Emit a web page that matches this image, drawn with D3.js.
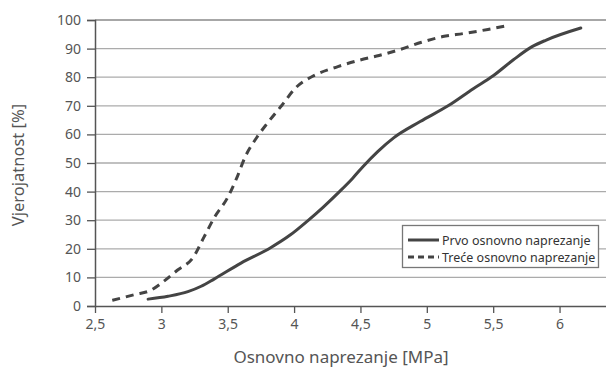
<!DOCTYPE html>
<html>
<head>
<meta charset="utf-8">
<script src="https://cdn.jsdelivr.net/npm/d3@7"></script>
<style>
  body { margin: 0; background: #fff; }
  svg { font-family: "Noto Sans", "Open Sans", sans-serif; }
</style>
</head>
<body>
<svg id="chart" width="606" height="370"></svg>
<script>
// Prvo osnovno naprezanje (solid)
const prvoX = [2.9, 3.05, 3.2, 3.3, 3.4, 3.6, 3.82, 3.97, 4.1, 4.22, 4.34, 4.44, 4.52, 4.63, 4.75, 4.95, 5.16, 5.35, 5.5, 5.65, 5.79, 5.9, 6.16]
const prvoY = [2.4, 3.4, 5, 6.9, 9.5, 15, 20.3, 24.8, 29.7, 34.6, 39.9, 44.6, 48.8, 54, 58.8, 64.5, 70, 76, 80.5, 86, 90.6, 93, 97.2]
// Treće osnovno naprezanje (dashed)
const treceX = [2.63, 2.8, 2.92, 3.0, 3.12, 3.24, 3.32, 3.4, 3.5, 3.57, 3.63, 3.72, 3.8, 3.91, 4.01, 4.16, 4.33, 4.48, 4.64, 4.8, 4.96, 5.12, 5.28, 5.46, 5.6]
const treceY = [2, 4, 5.5, 8, 12.5, 17, 24, 31, 38, 45, 52, 59, 64, 70.3, 76.2, 80.8, 83.7, 85.8, 87.6, 89.7, 92.2, 94.2, 95.3, 96.7, 98]

const xTicks = [2.5, 3, 3.5, 4, 4.5, 5, 5.5, 6]
const yTicks = [0, 10, 20, 30, 40, 50, 60, 70, 80, 90, 100]
const seriesNames = ["Prvo osnovno naprezanje", "Treće osnovno naprezanje"]

const svg = d3.select("#chart")
const width = 606, height = 370
const margin = {top: 20, right: 0, bottom: 64, left: 95}

const xScale = d3.scaleLinear().domain([2.5, 6.35]).range([margin.left, width - margin.right])
const yScale = d3.scaleLinear().domain([0, 100]).range([height - margin.bottom, margin.top])

const textColor = "#555"
const axisColor = "#555"

// grid lines
svg.append("g")
    .selectAll("line")
    .data(yTicks.filter(d => d > 0))
    .join("line")
    .attr("x1", margin.left)
    .attr("x2", width)
    .attr("y1", d => yScale(d))
    .attr("y2", d => yScale(d))
    .attr("stroke", d => d == 100 ? "#8a8a8a" : "#ababab")
    .attr("stroke-width", 1.3)

// y axis
let yAxis = g => g
    .attr("transform", `translate(${margin.left},0)`)
    .call(d3.axisLeft(yScale).tickValues(yTicks).tickSize(8).tickPadding(6))
    .call(g => g.select(".domain").attr("stroke", axisColor).attr("stroke-width", 1.5))
    .call(g => g.selectAll(".tick line").attr("stroke", axisColor).attr("stroke-width", 1.3))
    .call(g => g.selectAll(".tick text")
        .attr("fill", textColor)
        .attr("font-size", 14)
        .attr("font-family", "Noto Sans, sans-serif"))

// x axis
let xAxis = g => g
    .attr("transform", `translate(0,${yScale(0)})`)
    .call(d3.axisBottom(xScale).tickValues(xTicks).tickSize(7).tickPadding(6)
        .tickFormat(d => String(d).replace(".", ",")).tickSizeOuter(0))
    .call(g => g.select(".domain").attr("stroke", axisColor).attr("stroke-width", 1.5))
    .call(g => g.selectAll(".tick line").attr("stroke", axisColor).attr("stroke-width", 1.3))
    .call(g => g.selectAll(".tick text")
        .attr("fill", textColor)
        .attr("font-size", 14)
        .attr("font-family", "Noto Sans, sans-serif"))

svg.append("g").call(xAxis)
svg.append("g").call(yAxis)

// axis titles
svg.append("text")
    .attr("x", 341)
    .attr("y", 363)
    .attr("text-anchor", "middle")
    .attr("fill", textColor)
    .attr("font-size", 17)
    .text("Osnovno naprezanje [MPa]")

svg.append("text")
    .attr("transform", "translate(24,165) rotate(-90)")
    .attr("text-anchor", "middle")
    .attr("fill", textColor)
    .attr("font-size", 16.5)
    .text("Vjerojatnost [%]")

// lines
let line = d3.line()
    .x(d => xScale(d[0]))
    .y(d => yScale(d[1]))
    .curve(d3.curveMonotoneX)

const prvo = prvoX.map((x, i) => [x, prvoY[i]])
const trece = treceX.map((x, i) => [x, treceY[i]])

svg.append("path")
    .datum(prvo)
    .attr("fill", "none")
    .attr("stroke", "#444")
    .attr("stroke-width", 3)
    .attr("stroke-linecap", "round")
    .attr("d", line)

svg.append("path")
    .datum(trece)
    .attr("fill", "none")
    .attr("stroke", "#444")
    .attr("stroke-width", 3)
    .attr("stroke-dasharray", "8,6")
    .attr("d", line)

// legend
const legend = svg.append("g")
legend.append("rect")
    .attr("x", 402.5)
    .attr("y", 225.5)
    .attr("width", 196)
    .attr("height", 42)
    .attr("fill", "#fff")
    .attr("stroke", "#777")
    .attr("stroke-width", 1.3)

const legendDash = [null, "6,4"]
seriesNames.forEach((name, i) => {
    const ly = 240 + i * 17
    legend.append("line")
        .attr("x1", 408)
        .attr("x2", 439)
        .attr("y1", ly)
        .attr("y2", ly)
        .attr("stroke", "#444")
        .attr("stroke-width", 3)
        .attr("stroke-dasharray", legendDash[i])
    legend.append("text")
        .attr("x", 442)
        .attr("y", ly + 4.5)
        .attr("fill", "#333")
        .attr("font-size", 12.5)
        .text(name)
})
</script>
</body>
</html>
